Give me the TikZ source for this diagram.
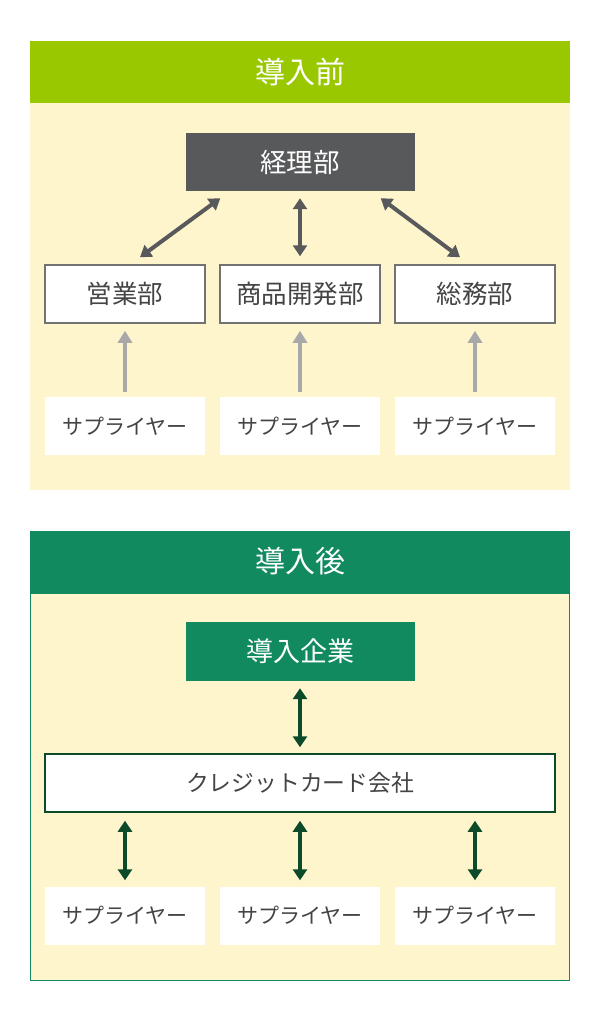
\documentclass[tikz,border=0pt]{standalone}
\usepackage{fontspec}
\newfontfamily\jp{Noto Sans CJK JP}
\usetikzlibrary{arrows.meta,positioning}

\definecolor{leaf}{HTML}{99C800}
\definecolor{forest}{HTML}{118A60}
\definecolor{cream}{HTML}{FFF5CC}
\definecolor{slate}{HTML}{58595B}
\definecolor{darkleaf}{HTML}{0B4B2A}
\definecolor{ash}{HTML}{A9A9A9}
\definecolor{ink}{HTML}{444444}

\begin{document}
\begin{tikzpicture}[x=1pt, y=-1pt, node distance=175pt, every node/.style={rectangle, inner sep=0pt, text=ink, font=\jp\fontsize{25.5}{30}\selectfont}, dept/.style={draw=slate!85, line width=1.5pt, fill=white, minimum width=160pt, minimum height=58pt}, supplier/.style={fill=white, minimum width=160pt, minimum height=58pt, font=\jp\fontsize{21}{25}\selectfont}, head/.style={minimum width=540pt, minimum height=62pt, text=white, font=\jp\fontsize{30}{34}\selectfont}, both/.style={{Triangle[length=11pt,width=14pt]}-{Triangle[length=11pt,width=14pt]}, line width=4pt}]

    \useasboundingbox (0,0) rectangle (600,1020);

    % Panels
    \fill[cream] (30,103) rectangle (570,490);
    \filldraw[fill=cream, draw=forest, line width=1pt] (30.5,593) rectangle (569.5,980);

    % Nodes (before)
    \node[head, fill=leaf] (before) at (300,72) {導入前};
    \node[fill=slate, text=white, minimum width=229pt, minimum height=58pt, font=\jp\fontsize{26.5}{30}\selectfont] (keiri) at (300,162) {経理部};
    \node[dept] (shohin) at (300,294) {商品開発部};
    \node[dept, left of=shohin] (eigyo) {営業部};
    \node[dept, right of=shohin] (somu) {総務部};
    \node[supplier] (sup2) at (300,426) {サプライヤー};
    \node[supplier, left of=sup2] (sup1) {サプライヤー};
    \node[supplier, right of=sup2] (sup3) {サプライヤー};

    % Nodes (after)
    \node[head, fill=forest] (after) at (300,561.5) {導入後};
    \node[fill=forest, text=white, minimum width=229pt, minimum height=59pt, font=\jp\fontsize{27}{30}\selectfont] (kigyo) at (300,651.5) {導入企業};
    \node[draw=darkleaf, line width=1.5pt, fill=white, minimum width=510pt, minimum height=58pt, font=\jp\fontsize{22.8}{27}\selectfont] (card) at (300,783) {クレジットカード会社};
    \node[supplier] (bsup2) at (300,915.5) {サプライヤー};
    \node[supplier, left of=bsup2] (bsup1) {サプライヤー};
    \node[supplier, right of=bsup2] (bsup3) {サプライヤー};

    % Edges (before)
    \draw[both, slate] ([xshift=35pt, yshift=-7pt]keiri.south west) -- ([xshift=15pt, yshift=7pt]eigyo.north);
    \draw[both, slate, shorten <=7pt, shorten >=8pt] (keiri.south) -- (shohin.north);
    \draw[both, slate] ([xshift=-34pt, yshift=-7pt]keiri.south east) -- ([xshift=-15pt, yshift=7pt]somu.north);
    \draw[-{Triangle[length=12pt,width=14pt]}, ash, line width=4pt, shorten <=5pt, shorten >=7pt] (sup1.north) -- (eigyo.south);
    \draw[-{Triangle[length=12pt,width=14pt]}, ash, line width=4pt, shorten <=5pt, shorten >=7pt] (sup2.north) -- (shohin.south);
    \draw[-{Triangle[length=12pt,width=14pt]}, ash, line width=4pt, shorten <=5pt, shorten >=7pt] (sup3.north) -- (somu.south);

    % Edges (after)
    \draw[both, darkleaf, shorten <=7pt, shorten >=6pt] (kigyo.south) -- (card.north);
    \draw[both, darkleaf, shorten <=8pt, shorten >=6pt] (bsup1.north |- card.south) -- (bsup1.north);
    \draw[both, darkleaf, shorten <=8pt, shorten >=6pt] (card.south) -- (bsup2.north);
    \draw[both, darkleaf, shorten <=8pt, shorten >=6pt] (bsup3.north |- card.south) -- (bsup3.north);

\end{tikzpicture}
\end{document}
